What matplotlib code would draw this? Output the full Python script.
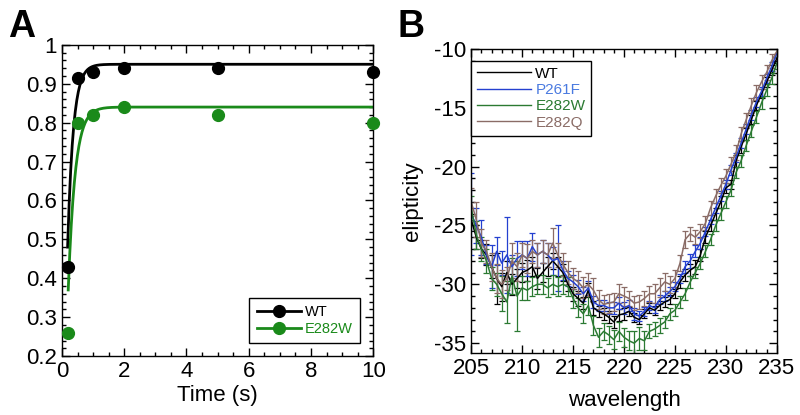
import numpy as np
import matplotlib.pyplot as plt
from matplotlib.ticker import MultipleLocator

plt.rcParams['font.family'] = ['Liberation Sans', 'DejaVu Sans']
plt.rcParams['axes.unicode_minus'] = False

# panel A: kinetics
time_s = [0.2, 0.5, 1, 2, 5, 10]
wt_frac = [0.43, 0.915, 0.93, 0.94, 0.94, 0.93]
e282w_frac = [0.26, 0.80, 0.82, 0.84, 0.82, 0.80]
# single exponential fit parameters (plateau, start value, rate, start time)
wt_fit = (0.95, 0.48, 5.5, 0.18)
e282w_fit = (0.84, 0.37, 4.5, 0.2)

# panel B: CD spectra
wavelength = np.arange(205, 235.01, 0.5)
wt_cd = [-24.5, -26, -27, -27.5, -28.5, -29.5, -30.2, -29, -30, -29.5,
         -29, -28.8, -28.5, -29.5, -29, -28.5, -28, -28.5, -29, -30,
         -30.8, -31.2, -31.6, -30.5, -32, -32.3, -32.5, -32.8, -33.2, -32.6,
         -32.5, -32.3, -32.8, -33, -32.5, -32, -32.2, -31.8, -31.5, -31.3,
         -30.8, -29.8, -29.2, -28.8, -28.5, -27.5, -26, -25, -24, -23,
         -21.8, -21.5, -19.5, -18.3, -17.2, -16, -14.8, -13.8, -12.8, -11.8,
         -10.8]
p261f_cd = [-24, -25, -26, -27.5, -28.5, -27.2, -28.2, -27.5, -28.5, -27.8,
            -27.5, -27.8, -26.8, -27.5, -27.2, -27.5, -28, -27.8, -28.8, -29.5,
            -29.8, -30.2, -30.8, -30.3, -31.5, -31.8, -31.8, -32, -32, -31.6,
            -32, -31.8, -32.5, -32.7, -32.3, -31.8, -32, -31.3, -31, -30.6,
            -30.2, -29.5, -28.5, -28, -27.2, -26.5, -25.5, -24.5, -23.5, -22.5,
            -21.5, -20.3, -19.2, -18, -16.8, -15.6, -14.5, -13.6, -12.5, -11.5,
            -10.3]
e282w_cd = [-23.5, -25.8, -27, -28, -29.5, -30, -30.8, -31.5, -29.3, -31,
            -30.3, -30.5, -30.2, -30, -30, -30.3, -30, -30.2, -30, -30.2,
            -31.2, -32, -32.5, -31.8, -33.5, -34.5, -34, -34.3, -34.7, -34,
            -34.5, -34.8, -35, -34.6, -34.8, -34, -33.8, -33.5, -33.2, -32.5,
            -32.2, -31.5, -30.8, -29.8, -29, -28.2, -27.2, -26.2, -25, -24,
            -23, -22, -20.5, -19.5, -18.2, -17, -15.8, -14.6, -13.5, -12.5,
            -11.2]
e282q_cd = [-23, -24.5, -26.5, -27.2, -28.5, -29.5, -30, -29.5, -28, -28.5,
            -27.5, -27.8, -27.2, -27.5, -27.2, -27.5, -26.5, -27.5, -28.3, -29,
            -29.5, -29.8, -30.3, -30, -30.5, -31.3, -31.7, -31.6, -31.5, -30.8,
            -31, -31.2, -31.6, -31.5, -31.2, -30.8, -30.8, -30.3, -29.8, -30,
            -29.5, -28.2, -26.2, -25.7, -26, -25.5, -24.8, -23.5, -22.5, -21.6,
            -20.8, -19.8, -18.8, -17.2, -16, -14.8, -13.7, -12.8, -12, -11,
            -10.2]
wt_err = [1.0, 1.0, 0.8, 0.9, 1.0, 2.2, 1.2, 1.0, 0.9, 0.8,
          0.8, 0.9, 0.8, 0.9, 0.8, 0.8, 0.7, 0.8, 0.7, 0.6,
          0.6, 0.6, 0.5, 0.6, 0.6, 0.5, 0.5, 0.5, 0.5, 0.5,
          0.5, 0.4, 0.4, 0.4, 0.4, 0.4, 0.4, 0.4, 0.4, 0.4,
          0.4, 0.5, 0.5, 0.5, 0.6, 0.5, 0.5, 0.5, 0.5, 0.5,
          0.4, 0.4, 0.5, 0.5, 0.5, 0.4, 0.4, 0.4, 0.4, 0.4,
          0.4]
p261f_err = [3.5, 1.5, 1.5, 0.8, 1.8, 1.2, 1.0, 3.2, 1.0, 1.5,
             1.2, 1.5, 1.2, 1.0, 1.0, 1.0, 1.2, 2.8, 0.8, 0.6,
             0.6, 0.6, 0.6, 0.6, 0.5, 0.5, 0.5, 0.5, 0.5, 0.5,
             0.5, 0.5, 0.5, 0.4, 0.4, 0.4, 0.4, 0.4, 0.4, 0.4,
             0.4, 0.4, 0.5, 0.6, 0.5, 0.5, 0.4, 0.4, 0.4, 0.4,
             0.4, 0.4, 0.4, 0.4, 0.4, 0.4, 0.4, 0.4, 0.4, 0.4,
             0.4]
e282w_err = [1.0, 1.2, 1.0, 1.0, 1.0, 1.0, 1.5, 1.8, 1.5, 3.0,
             1.0, 0.8, 0.8, 0.8, 0.8, 0.8, 0.8, 0.8, 0.8, 0.8,
             0.8, 0.8, 0.8, 0.8, 0.8, 0.8, 0.7, 0.8, 0.8, 0.8,
             0.8, 0.8, 1.0, 1.0, 0.8, 0.6, 0.6, 0.6, 0.5, 0.5,
             0.5, 0.5, 0.5, 0.5, 0.5, 0.5, 0.5, 0.5, 0.5, 0.5,
             0.5, 0.5, 0.5, 0.5, 0.5, 0.5, 0.5, 0.5, 0.5, 0.5,
             0.5]
e282q_err = [1.2, 1.5, 1.2, 1.0, 1.2, 1.2, 1.2, 1.0, 1.5, 1.2,
             1.0, 1.2, 1.0, 1.0, 1.0, 1.0, 1.3, 1.0, 1.0, 1.0,
             0.9, 0.9, 0.9, 1.0, 1.0, 0.8, 0.8, 0.8, 0.8, 0.8,
             0.8, 0.6, 0.6, 0.6, 0.6, 0.7, 0.8, 0.8, 0.8, 0.7,
             0.7, 0.7, 0.7, 0.6, 0.6, 0.6, 0.6, 0.6, 0.6, 0.6,
             0.6, 0.6, 0.6, 0.6, 0.6, 0.6, 0.6, 0.6, 0.6, 0.6,
             0.6]

BLACK = "black"
GREEN_A = "#1a8a1a"
BLUE = "#2440d0"
GREEN_B = "#2b7a32"
BROWN = "#8a6c66"


def style_axes(ax):
    ax.tick_params(which="both", direction="in", top=True, right=True,
                   labelsize=16, width=1)
    ax.tick_params(which="major", length=6)
    ax.tick_params(which="minor", length=3)
    for sp in ax.spines.values():
        sp.set_linewidth(1)


def fit_curve(t, params):
    ymax, y0, k, t0 = params
    return ymax - (ymax - y0) * np.exp(-k * (t - t0))


fig = plt.figure(figsize=(8, 4.15), dpi=100)

# ---- panel A ----
ax1 = fig.add_axes([0.0775, 0.142, 0.389, 0.750])
t_fine = np.linspace(0.18, 10, 400)
ax1.plot(t_fine, fit_curve(t_fine, wt_fit), color=BLACK, lw=2)
t_fine2 = np.linspace(0.2, 10, 400)
ax1.plot(t_fine2, fit_curve(t_fine2, e282w_fit), color=GREEN_A, lw=2)
ax1.plot(time_s, wt_frac, "o", color=BLACK, ms=8.5, ls="none", clip_on=False, zorder=3)
ax1.plot(time_s, e282w_frac, "o", color=GREEN_A, ms=8.5, ls="none", clip_on=False, zorder=3)
h1, = ax1.plot([], [], "o-", color=BLACK, ms=8.5, lw=2)
h2, = ax1.plot([], [], "o-", color=GREEN_A, ms=8.5, lw=2)
leg = ax1.legend([h1, h2], ["WT", "E282W"], loc="lower right", fontsize=10.5,
                 fancybox=False, framealpha=1, edgecolor="black",
                 handlelength=3, borderaxespad=0.9, labelspacing=0.15,
                 handletextpad=0.3, borderpad=0.5)
leg.get_frame().set_linewidth(1)
for txt, c in zip(leg.get_texts(), [BLACK, GREEN_A]):
    txt.set_color(c)
ax1.set_xlim(0, 10)
ax1.set_ylim(0.2, 1.0)
ax1.xaxis.set_major_locator(MultipleLocator(2))
ax1.xaxis.set_minor_locator(MultipleLocator(0.5))
ax1.yaxis.set_major_locator(MultipleLocator(0.1))
ax1.yaxis.set_minor_locator(MultipleLocator(0.02))
ax1.set_yticks(ax1.get_yticks())
ax1.set_yticklabels([f"{v:g}" for v in ax1.get_yticks()])
ax1.set_ylim(0.2, 1.0)
ax1.set_xlabel("Time (s)", fontsize=16, labelpad=2)
style_axes(ax1)
fig.text(0.01, 0.912, "A", fontsize=27, fontweight="bold")

# ---- panel B ----
ax2 = fig.add_axes([0.589, 0.149, 0.382, 0.733])
series = [(wt_cd, wt_err, BLACK, "WT"),
          (p261f_cd, p261f_err, BLUE, "P261F"),
          (e282w_cd, e282w_err, GREEN_B, "E282W"),
          (e282q_cd, e282q_err, BROWN, "E282Q")]
handles = []
for vals, err, c, name in series:
    ax2.errorbar(wavelength, vals, yerr=err, color=c, lw=1.1, elinewidth=0.9,
                 capsize=2.5, capthick=0.9)
    h, = ax2.plot([], [], color=c, lw=1)
    handles.append(h)
leg2 = ax2.legend(handles, [s[3] for s in series], loc="upper left",
                  fontsize=11, fancybox=False, framealpha=1,
                  edgecolor="black", handlelength=3.5, borderaxespad=0,
                  bbox_to_anchor=(0.0, 0.962), labelspacing=0.15,
                  handletextpad=0.3)
leg2.get_frame().set_linewidth(1)
for txt, s in zip(leg2.get_texts(), series):
    txt.set_color(s[2] if s[2] != BLUE else "#4a7ae0")
ax2.set_xlim(205, 235)
ax2.set_ylim(-35.85, -10)
ax2.xaxis.set_major_locator(MultipleLocator(5))
ax2.xaxis.set_minor_locator(MultipleLocator(1))
ax2.yaxis.set_major_locator(MultipleLocator(5))
ax2.yaxis.set_minor_locator(MultipleLocator(1))
ax2.set_xlabel("wavelength", fontsize=16, labelpad=8)
ax2.set_ylabel("elipticity", fontsize=16, labelpad=8)
style_axes(ax2)
fig.text(0.497, 0.912, "B", fontsize=27, fontweight="bold")

fig.savefig("out.png", dpi=100)
